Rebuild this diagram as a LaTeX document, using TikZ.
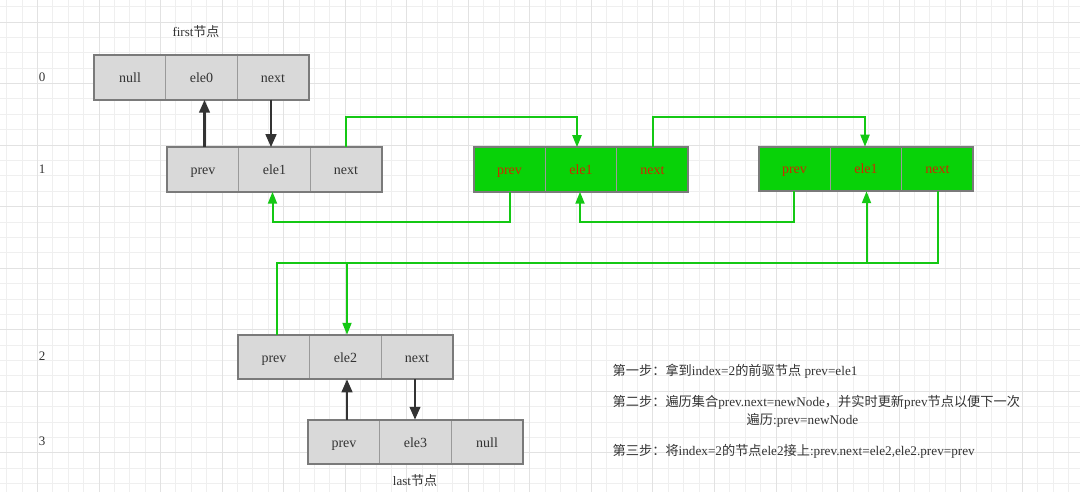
\documentclass[tikz,border=0pt]{standalone}
\usepackage{fontspec}
\setmainfont{Liberation Serif}
\newfontfamily\cjk{Noto Sans CJK SC}
\usetikzlibrary{arrows.meta}
\newcommand{\zh}[1]{{\cjk #1}}
\definecolor{gridminor}{HTML}{EFEFEF}
\definecolor{gridmajor}{HTML}{E2E2E2}
\definecolor{cellgray}{HTML}{D9D9D9}
\definecolor{divgray}{HTML}{9A9A9A}
\definecolor{bordergray}{HTML}{7A7A7A}
\definecolor{labelcol}{HTML}{333333}
\definecolor{arrowgray}{HTML}{333333}
\definecolor{cellgreen}{RGB}{8,210,8}
\definecolor{linegreen}{RGB}{20,200,20}
\definecolor{redtext}{HTML}{CC2A00}
\newcommand\recnode[8]{%
  \node[#4] (#1a) at (#2-71.5,#3) {#6};
  \node[#4] (#1b) at (#2,#3) {#7};
  \node[#4] (#1c) at (#2+71.5,#3) {#8};
  \draw[#5] (#1a.north west) rectangle (#1c.south east);
}
\begin{document}
\begin{tikzpicture}[x=1pt,y=-1pt,
  greycellstyle/.style={draw=divgray, line width=0.8pt, fill=cellgray, minimum width=71.5pt, minimum height=44.5pt, inner sep=0pt, outer sep=0pt, font=\fontsize{14}{14}\selectfont, text=labelcol, text height=10pt, text depth=0pt},
  greencellstyle/.style={greycellstyle, fill=cellgreen, text=redtext},
  boxborder/.style={draw=bordergray, line width=1.6pt},
  blackarrow/.style={draw=arrowgray, line width=2.7pt, -{Triangle[length=13pt,width=10.5pt]}},
  gline/.style={draw=linegreen, line width=2pt},
  garrow/.style={gline, -{Triangle[length=12pt,width=9pt]}},
  rowlabel/.style={font=\fontsize{13}{13}\selectfont, text=labelcol},
  titletext/.style={font=\fontsize{13}{13}\selectfont, text=labelcol},
  steptext/.style={font=\fontsize{13.2}{13.2}\selectfont, text=labelcol, anchor=west, inner sep=0pt}]
\useasboundingbox (0,0) rectangle (1080,492);
\fill[white] (0,0) rectangle (1080,492);
% grid
\foreach \i in {0,...,70} {\draw[gridminor, line width=1pt] ({floor(6.72+\i*15.3875)+0.5},0) -- ++(0,492);}
\foreach \j in {0,...,32} {\draw[gridminor, line width=1pt] (0,{floor(6.66+\j*15.3875)+0.5}) -- ++(1080,0);}
\foreach \i in {0,...,17} {\draw[gridmajor, line width=1pt] ({floor(6.72+(4*\i+2)*15.3875)+0.5},0) -- ++(0,492);}
\foreach \j in {0,...,8} {\draw[gridmajor, line width=1pt] (0,{floor(6.66+(4*\j+1)*15.3875)+0.5}) -- ++(1080,0);}
% records
\recnode{n0}{201.5}{77.5}{greycellstyle}{boxborder}{null}{ele0}{next}
\recnode{n1}{274.5}{169.5}{greycellstyle}{boxborder}{prev}{ele1}{next}
\recnode{ga}{581}{169.5}{greencellstyle}{boxborder}{prev}{ele1}{next}
\recnode{gb}{866}{169}{greencellstyle}{boxborder}{prev}{ele1}{next}
\recnode{n2}{345.5}{357}{greycellstyle}{boxborder}{prev}{ele2}{next}
\recnode{n3}{415.5}{442}{greycellstyle}{boxborder}{prev}{ele3}{null}
% labels
\node[rowlabel] (r0) at (42,77.5) {0};
\node[rowlabel] (r1) at (42,169.5) {1};
\node[rowlabel] (r2) at (42,356) {2};
\node[rowlabel] (r3) at (42,441) {3};
\node[titletext] (first) at (196,32) {first\zh{节点}};
\node[titletext] (last) at (415,481) {last\zh{节点}};
% black arrows
\draw[blackarrow] ([xshift=1.5pt]n1a.north) -- ([xshift=1.5pt]n1a.north |- n0b.south);
\draw[blackarrow] ([xshift=-2pt]n0c.south) -- ([xshift=-2pt]n0c.south |- n1b.north);
\draw[blackarrow] ([xshift=3pt]n3a.north) -- ([xshift=3pt]n3a.north |- n2b.south);
\draw[blackarrow] ([xshift=-2pt]n2c.south) -- ([xshift=-2pt]n2c.south |- n3b.north);
% green connectors
\draw[garrow] (n1c.north) -- ++(0,-30) -| ([xshift=-4pt]gab.north);
\draw[garrow] (gac.north) -- ++(0,-30) -| ([xshift=-1pt]gbb.north);
\draw[garrow] (gaa.south) -- ++(0,30) -| ([xshift=-2pt]n1b.south);
\draw[garrow] ([xshift=-0.5pt]gba.south) -- ++(0,31) -| ([xshift=-1pt]gab.south);
\draw[garrow] (gbc.south) -- ++(0,72) -| ([xshift=1.5pt]n2b.north);
\draw[garrow] ([xshift=2.5pt]n2a.north) -- ++(0,-71.5) -| ([xshift=0.5pt]gbb.south);
% steps
\node[steptext] (s1) at (612.5,371.5) {\zh{第一步：拿到}index=2\zh{的前驱节点} prev=ele1};
\node[steptext] (s2) at (612.5,402.5) {\zh{第二步：遍历集合}prev.next=newNode\zh{，并实时更新}prev\zh{节点以便下一次}};
\node[steptext] (s3) at (746.5,420) {\zh{遍历}:prev=newNode};
\node[steptext] (s4) at (612.5,451) {\zh{第三步：将}index=2\zh{的节点}ele2\zh{接上}:prev.next=ele2,ele2.prev=prev};
\end{tikzpicture}
\end{document}
